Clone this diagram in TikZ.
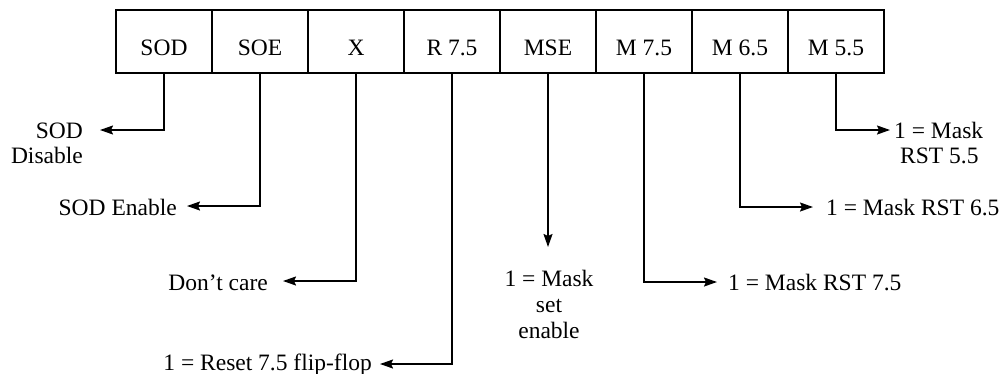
\documentclass[tikz,border=0pt]{standalone}
\usepackage{fontspec}
\setmainfont{Liberation Serif}
\usetikzlibrary{arrows.meta}
\begin{document}
\begin{tikzpicture}[x=1pt,y=-1pt,
  cell/.style={draw,line width=1.3pt,minimum width=96pt,minimum height=63pt,inner sep=0pt,outer sep=0pt,
    text height=30pt,text depth=3pt,font=\fontsize{23.5}{26}\selectfont},
  lbl/.style={inner sep=0pt,font=\fontsize{23.5}{26}\selectfont},
  arr/.style={line width=1.6pt,-{Stealth[length=13pt,width=9pt,inset=2pt]}}]
\useasboundingbox (0,0) rectangle (1003,373);
\node[cell] (c1) at (164,41.5) {SOD};
\node[cell] (c2) at (260,41.5) {SOE};
\node[cell] (c3) at (356,41.5) {X};
\node[cell] (c4) at (452,41.5) {R 7.5};
\node[cell] (c5) at (548,41.5) {MSE};
\node[cell] (c6) at (644,41.5) {M 7.5};
\node[cell] (c7) at (740,41.5) {M 6.5};
\node[cell] (c8) at (836,41.5) {M 5.5};
% arrow tips
\coordinate (t1) at (100,130);
\coordinate (t2) at (187,206);
\coordinate (t3) at (283,281);
\coordinate (t4) at (380,364);
\coordinate (t5) at (548,247);
\coordinate (t6) at (717,282);
\coordinate (t7) at (813,207);
\coordinate (t8) at (890,130);
% labels
\node[lbl,anchor=base east] (l1a) at (83,138) {SOD};
\node[lbl,anchor=base east] (l1b) at (83,163) {Disable};
\node[lbl,anchor=base east] (l2) at (177,215) {SOD Enable};
\node[lbl,anchor=base east] (l3) at (268,290) {Don’t care};
\node[lbl,anchor=base east] (l4) at (372,370) {1 = Reset 7.5 flip-flop};
\node[lbl,anchor=base] (l5a) at (549,286) {1 = Mask};
\node[lbl,anchor=base] (l5b) at (549,312.5) {set};
\node[lbl,anchor=base] (l5c) at (549,338) {enable};
\node[lbl,anchor=base west] (l6) at (728,290) {1 = Mask RST 7.5};
\node[lbl,anchor=base west] (l7) at (826,215) {1 = Mask RST 6.5};
\node[lbl,anchor=base west] (l8a) at (894,138) {1 = Mask};
\node[lbl,anchor=base west] (l8b) at (900,163) {RST 5.5};
% connectors
\draw[arr] (c1.south) |- (t1);
\draw[arr] (c2.south) |- (t2);
\draw[arr] (c3.south) |- (t3);
\draw[arr] (c4.south) |- (t4);
\draw[arr] (c5.south) -- (t5);
\draw[arr] (c6.south) |- (t6);
\draw[arr] (c7.south) |- (t7);
\draw[arr] (c8.south) |- (t8);
\end{tikzpicture}
\end{document}
